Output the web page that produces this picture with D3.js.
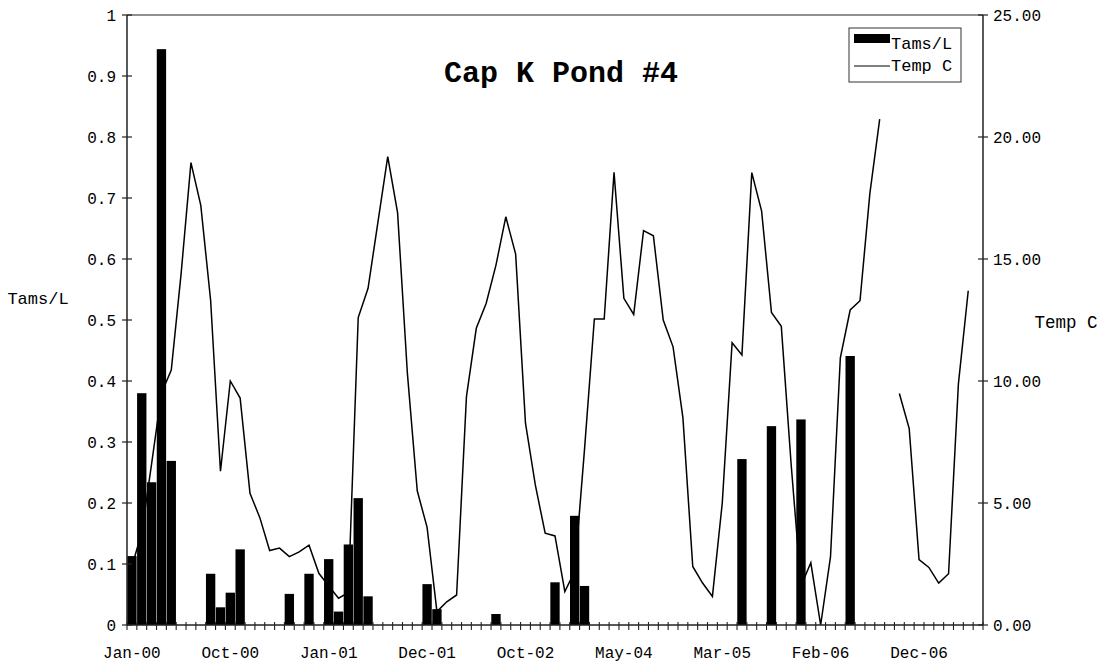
<!DOCTYPE html>
<html>
<head>
<meta charset="utf-8">
<script src="https://cdn.jsdelivr.net/npm/d3@7"></script>
<style>
  html, body { margin: 0; padding: 0; background: #fff; }
  svg text { font-family: "Liberation Mono", "Courier New", monospace; fill: #000; }
</style>
</head>
<body>
<svg id="chart" width="1107" height="665"></svg>
<script>
// Sampling rounds (87 in total); only every 10th round carries a date label.
const sampleCount = 87;
const dateLabels = ["Jan-00", "Oct-00", "Jan-01", "Dec-01", "Oct-02", "May-04", "Mar-05", "Feb-06", "Dec-06"];
const labelEvery = 10;

// Tams per litre, one value per sampling round
const tamsPerL = [
  0.113, 0.38, 0.234, 0.944, 0.269, 0, 0, 0, 0.084, 0.029,
  0.053, 0.124, 0, 0, 0, 0, 0.051, 0, 0.084, 0,
  0.108, 0.022, 0.132, 0.208, 0.047, 0, 0, 0, 0, 0,
  0.067, 0.026, 0, 0, 0, 0, 0, 0.018, 0, 0,
  0, 0, 0, 0.070, 0, 0.179, 0.064, 0, 0, 0,
  0, 0, 0, 0, 0, 0, 0, 0, 0, 0,
  0, 0, 0.272, 0, 0, 0.326, 0, 0, 0.337, 0,
  0, 0, 0, 0.441, 0, 0, 0, 0, 0, 0,
  0, 0, 0, 0, 0, 0, 0
];

// Water temperature in degrees C (null = not recorded)
const tempC = [
  2.4, 3.8, 6.6, 9.5, 10.45, 14.4, 18.95, 17.2, 13.3, 6.3,
  10.0, 9.3, 5.4, 4.4, 3.05, 3.15, 2.8, 3.0, 3.27, 2.12,
  1.6, 1.1, 1.33, 12.6, 13.8, 16.5, 19.2, 16.9, 10.3, 5.5,
  4.0, 0.55, 0.95, 1.23, 9.36, 12.16, 13.18, 14.75, 16.73, 15.2,
  8.27, 5.74, 3.76, 3.65, 1.37, 2.2, 7.2, 12.54, 12.54, 18.55,
  13.39, 12.73, 16.16, 15.95, 12.5, 11.4, 8.5, 2.4, 1.72, 1.17,
  5.0, 11.57, 11.07, 18.54, 16.96, 12.81, 12.24, 6.59, 1.6, 2.55,
  0.0, 2.79, 10.95, 12.91, 13.29, 17.68, 20.73, null, 9.49, 8.05,
  2.68, 2.36, 1.72, 2.1, 9.88, 13.7, null
];

const leftTicks = [0, 0.1, 0.2, 0.3, 0.4, 0.5, 0.6, 0.7, 0.8, 0.9, 1];
const rightTicks = [0, 5, 10, 15, 20, 25];

const svg = d3.select("#chart");
const plot = { left: 127, right: 983, top: 15, bottom: 625 };

const x = d3.scaleBand()
  .domain(d3.range(sampleCount))
  .range([plot.left, plot.right])
  .paddingInner(0.05)
  .paddingOuter(0.025);
const xEdge = d3.scaleLinear().domain([0, sampleCount]).range([plot.left, plot.right]);
const yLeft = d3.scaleLinear().domain([0, 1]).range([plot.bottom, plot.top]);
const yRight = d3.scaleLinear().domain([0, 25]).range([plot.bottom, plot.top]);

const axisColor = "#222";
const tickFont = 16;

// Tams bars
svg.append("g")
  .selectAll("rect")
  .data(tamsPerL.map((v, i) => ({ v, i })).filter(d => d.v > 0))
  .join("rect")
  .attr("x", d => x(d.i))
  .attr("width", x.bandwidth())
  .attr("y", d => yLeft(d.v))
  .attr("height", d => yLeft(0) - yLeft(d.v))
  .attr("fill", "#000");

// Temperature line
const line = d3.line()
  .defined(d => d.t !== null)
  .x(d => x(d.i) + x.bandwidth() / 2)
  .y(d => yRight(d.t));
svg.append("path")
  .datum(tempC.map((t, i) => ({ t, i })))
  .attr("d", line)
  .attr("fill", "none")
  .attr("stroke", "#000")
  .attr("stroke-width", 1.5)
  .attr("stroke-linejoin", "miter");

// Frame: top edge
svg.append("line")
  .attr("x1", plot.left).attr("x2", plot.right)
  .attr("y1", plot.top).attr("y2", plot.top)
  .attr("stroke", axisColor).attr("stroke-width", 1.2);

// Left axis
const gL = svg.append("g").attr("transform", `translate(${plot.left},0)`);
gL.append("line").attr("y1", plot.top).attr("y2", plot.bottom)
  .attr("stroke", axisColor).attr("stroke-width", 1.5);
gL.selectAll("line.tick").data(leftTicks).join("line")
  .attr("class", "tick")
  .attr("x1", -5).attr("x2", 5)
  .attr("y1", d => yLeft(d)).attr("y2", d => yLeft(d))
  .attr("stroke", axisColor).attr("stroke-width", 1.2);
gL.selectAll("text").data(leftTicks).join("text")
  .attr("x", -11)
  .attr("y", d => yLeft(d))
  .attr("dy", "0.35em")
  .attr("text-anchor", "end")
  .attr("font-size", tickFont)
  .text(d => d3.format("~g")(d));

// Right axis
const gR = svg.append("g").attr("transform", `translate(${plot.right},0)`);
gR.append("line").attr("y1", plot.top).attr("y2", plot.bottom)
  .attr("stroke", axisColor).attr("stroke-width", 1.5);
gR.selectAll("line.tick").data(rightTicks).join("line")
  .attr("class", "tick")
  .attr("x1", -5).attr("x2", 5)
  .attr("y1", d => yRight(d)).attr("y2", d => yRight(d))
  .attr("stroke", axisColor).attr("stroke-width", 1.2);
gR.selectAll("text").data(rightTicks).join("text")
  .attr("x", 10)
  .attr("y", d => yRight(d))
  .attr("dy", "0.35em")
  .attr("font-size", tickFont)
  .text(d => d3.format(".2f")(d));

// Bottom axis: ticks on every category boundary
const gB = svg.append("g");
gB.append("line")
  .attr("x1", plot.left).attr("x2", plot.right)
  .attr("y1", plot.bottom).attr("y2", plot.bottom)
  .attr("stroke", axisColor).attr("stroke-width", 1.5);
gB.selectAll("line.tick").data(d3.range(sampleCount + 1)).join("line")
  .attr("class", "tick")
  .attr("x1", d => xEdge(d)).attr("x2", d => xEdge(d))
  .attr("y1", plot.bottom - 3).attr("y2", plot.bottom + 5)
  .attr("stroke", axisColor).attr("stroke-width", 1.1);
gB.selectAll("text").data(dateLabels).join("text")
  .attr("x", (d, k) => x(k * labelEvery) + x.bandwidth() / 2)
  .attr("y", 658)
  .attr("text-anchor", "middle")
  .attr("font-size", tickFont)
  .text(d => d);

// Axis titles
svg.append("text").attr("x", 38).attr("y", 304)
  .attr("text-anchor", "middle").attr("font-size", 17).text("Tams/L");
svg.append("text").attr("x", 1066).attr("y", 328)
  .attr("text-anchor", "middle").attr("font-size", 17.5).text("Temp C");

// Title
svg.append("text").attr("x", 561).attr("y", 82)
  .attr("text-anchor", "middle").attr("font-size", 30).attr("font-weight", "bold")
  .text("Cap K Pond #4");

// Legend
const lg = svg.append("g").attr("transform", "translate(849,28)");
lg.append("rect").attr("width", 112).attr("height", 54)
  .attr("fill", "#fff").attr("stroke", "#333").attr("stroke-width", 1);
lg.append("rect").attr("x", 5).attr("y", 6).attr("width", 36).attr("height", 9).attr("fill", "#000");
lg.append("text").attr("x", 42).attr("y", 21).attr("font-size", 17).text("Tams/L");
lg.append("line").attr("x1", 5).attr("x2", 41).attr("y1", 38).attr("y2", 38)
  .attr("stroke", "#000").attr("stroke-width", 1.2);
lg.append("text").attr("x", 42).attr("y", 43).attr("font-size", 17).text("Temp C");
</script>
</body>
</html>
